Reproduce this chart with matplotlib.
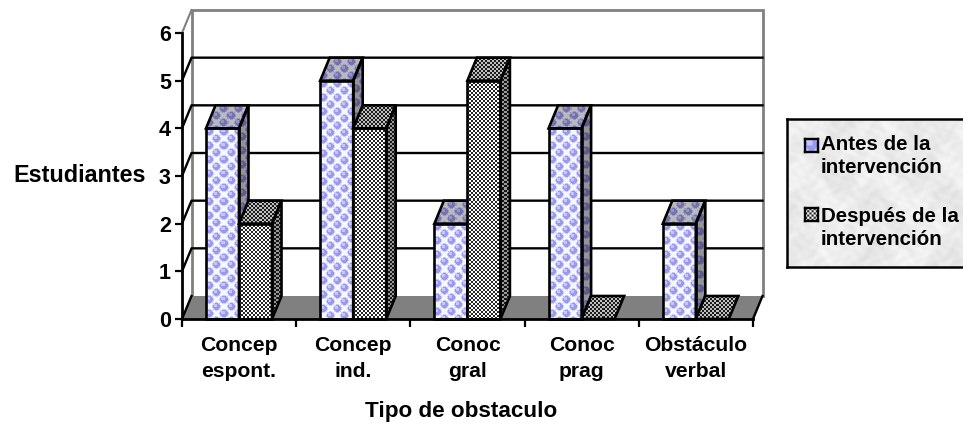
#!/usr/bin/env python3
"""Pseudo-3D clustered bars, Excel style, with textured faces."""
import numpy as np
import matplotlib
matplotlib.use("Agg")
import matplotlib.pyplot as plt
from matplotlib.patches import Polygon

plt.rcParams["font.family"] = ["Liberation Sans", "DejaVu Sans"]
plt.rcParams["font.weight"] = "bold"

categories = ["Concep\nespont.", "Concep\nind.", "Conoc\ngral", "Conoc\nprag", "Obstáculo\nverbal"]
antes = [4, 5, 2, 4, 2]
despues = [2, 4, 5, 0, 0]
y_ticks = [0, 1, 2, 3, 4, 5, 6]
series_names = ["Antes de la\nintervención", "Después de la\nintervención"]

W, H = 963, 424
X0, X1, Y0, Y6 = 182, 753, 319, 33   # front plane of the plot, in pixels
DX = 9.5 / ((X1 - X0) / 5)           # depth offset in category units
DY = 23.0 / ((Y0 - Y6) / 6)          # depth offset in value units
BAR_W = 33 / ((X1 - X0) / 5)
BAR_START = 24 / ((X1 - X0) / 5)


def bubble_tile():
    # 14 px tile: pale ground with two bubbles on the diagonal
    n = 14
    yy, xx = np.mgrid[0:n, 0:n]
    img = np.ones((n, n, 3)) * np.array([0.97, 0.97, 1.0])
    for cx, cy in [(3.0, 3.0), (10.0, 10.0)]:
        # wrap around so the bubbles cross the tile edge
        dx = np.minimum(np.abs(xx - cx), n - np.abs(xx - cx))
        dy = np.minimum(np.abs(yy - cy), n - np.abs(yy - cy))
        r = np.hypot(dx, dy)
        img[r < 4.4] = [0.80, 0.80, 0.98]
        img[r < 3.6] = [0.60, 0.60, 0.94]
        hi = np.hypot(xx - cx + 1, yy - cy + 1)
        img[(hi < 1.5) & (r < 3.6)] = [0.78, 0.78, 0.98]
    return img


def check_tile():
    # 4 px tile: black and white check
    n = 4
    yy, xx = np.mgrid[0:n, 0:n]
    v = np.where((xx // 2 + yy // 2) % 2 == 0, 0.15, 1.0)
    return np.dstack([v, v, v])


def fill_face(ax, pts, tile, shade=1.0, z=3):
    # paint a repeated tile inside a polygon, then outline it
    pts = np.array(pts)
    poly = Polygon(pts, closed=True, fc="none", ec="none", clip_on=False)
    ax.add_patch(poly)
    x0, x1 = pts[:, 0].min(), pts[:, 0].max()
    y0, y1 = pts[:, 1].min(), pts[:, 1].max()
    nx = max(int(round((x1 - x0) * (X1 - X0) / 5)), 1)
    ny = max(int(round((y1 - y0) * (Y0 - Y6) / 6)), 1)
    rep = (ny // tile.shape[0] + 1, nx // tile.shape[1] + 1, 1)
    img = np.tile(tile, rep)[:ny, :nx] * shade
    im = ax.imshow(np.clip(img, 0, 1), extent=(x0, x1, y0, y1), origin="upper",
                   aspect="auto", interpolation="nearest", zorder=z)
    im.set_clip_path(poly)
    ax.add_patch(Polygon(pts, closed=True, fc="none", ec="black", lw=1.9,
                         joinstyle="miter", clip_on=False, zorder=z + 0.1))


def draw_bar(ax, x, val, tile, z):
    w = BAR_W
    if val > 0:
        fill_face(ax, [(x + w, 0), (x + w + DX, DY), (x + w + DX, val + DY), (x + w, val)],
                  tile, shade=0.6, z=z)
        fill_face(ax, [(x, 0), (x + w, 0), (x + w, val), (x, val)], tile, z=z)
    fill_face(ax, [(x, val), (x + w, val), (x + w + DX, val + DY), (x + DX, val + DY)],
              tile, shade=0.75, z=z)


def marble(nx, ny):
    # mottled grey for the legend box, built from a few waves
    yy, xx = np.mgrid[0:ny, 0:nx]
    v = (np.sin(xx * 0.071 + 2.1 * np.sin(yy * 0.043))
         + np.sin(yy * 0.113 + 2.7 * np.sin(xx * 0.089))
         + 0.7 * np.sin(xx * 0.31 + 3.1 * np.sin(yy * 0.27))
         + 0.7 * np.sin(yy * 0.37 + 2.9 * np.sin(xx * 0.23)))
    g = 0.925 + 0.014 * v
    return np.clip(np.dstack([g, g, g]), 0, 1)


fig = plt.figure(figsize=(W / 100, H / 100), dpi=100, facecolor="white")
ax = fig.add_axes([X0 / W, 1 - Y0 / H, (X1 - X0) / W, (Y0 - Y6) / H])
ax.set_xlim(0, len(categories))
ax.set_ylim(0, 6)
ax.set_autoscale_on(False)
for s in ax.spines.values():
    s.set_visible(False)
ax.patch.set_visible(False)

n = len(categories)
GREY = "#808080"
# floor and walls
ax.add_patch(Polygon([(0, 0), (n, 0), (n + DX, DY), (DX, DY)], fc=GREY, ec="none",
                     clip_on=False, zorder=1))
ax.plot([DX, DX, n + DX, n + DX], [DY, 6 + DY, 6 + DY, DY], color=GREY, lw=2,
        clip_on=False, zorder=1.5, solid_joinstyle="miter")
ax.plot([0, DX], [6, 6 + DY], color=GREY, lw=1.5, clip_on=False, zorder=1.5)
for v in y_ticks[1:-1]:
    ax.plot([0, DX, n + DX], [v, v + DY, v + DY], color="black", lw=1.7,
            clip_on=False, zorder=1.6)
ax.plot([0, DX], [0, DY], color="black", lw=1.7, clip_on=False, zorder=1.6)
ax.plot([n, n + DX], [0, DY], color="black", lw=1.7, clip_on=False, zorder=1.6)
ax.plot([0, 0], [0, 6], color="black", lw=2, clip_on=False, zorder=8)
ax.plot([0, n], [0, 0], color="black", lw=2, clip_on=False, zorder=8)

blue, dark = bubble_tile(), check_tile()
for i in range(n):
    x = i + BAR_START
    draw_bar(ax, x, antes[i], blue, 3 + i)
    draw_bar(ax, x + BAR_W, despues[i], dark, 3.5 + i)

ax.set_xticks(range(n + 1), [""] * (n + 1))
ax.set_yticks(y_ticks)
ax.tick_params(axis="y", length=5, width=1.6, pad=3, labelsize=15.5)
ax.tick_params(axis="x", length=6, width=1.6)
for i, name in enumerate(categories):
    ax.text(i + 0.5, -0.35, name, ha="center", va="top", fontsize=15.2,
            linespacing=1.5, clip_on=False)
fig.text(461 / W, 1 - 411 / H, "Tipo de obstaculo", ha="center", va="center", fontsize=16.2)
fig.text(79.5 / W, 1 - 176 / H, "Estudiantes", ha="center", va="center", fontsize=16.8)

# legend box with marble background, its right side runs off the picture
lx0, lx1, ly0, ly1 = 787, 968, 119, 267
leg = fig.add_axes([lx0 / W, 1 - ly1 / H, (lx1 - lx0) / W, (ly1 - ly0) / H])
leg.imshow(marble(lx1 - lx0, ly1 - ly0), aspect="auto", interpolation="bilinear")
leg.set_xticks([])
leg.set_yticks([])
for s in leg.spines.values():
    s.set_linewidth(1.8)
for k, (name, tile, yt, sy) in enumerate(zip(series_names, (blue, dark), (156, 228), (145, 214.5))):
    fig.text(821 / W, 1 - yt / H, name, ha="left", va="center", fontsize=14.8,
             linespacing=1.28)
    c = fig.add_axes([805 / W, 1 - (sy + 6.5) / H, 13 / W, 13 / H])
    c.imshow(tile[:7, :7] if k == 0 else np.tile(tile, (3, 3, 1))[:12, :12],
             aspect="auto", interpolation="bilinear")
    c.set_xticks([])
    c.set_yticks([])
    for s in c.spines.values():
        s.set_linewidth(1.7)

fig.savefig("out.png", dpi=100)
